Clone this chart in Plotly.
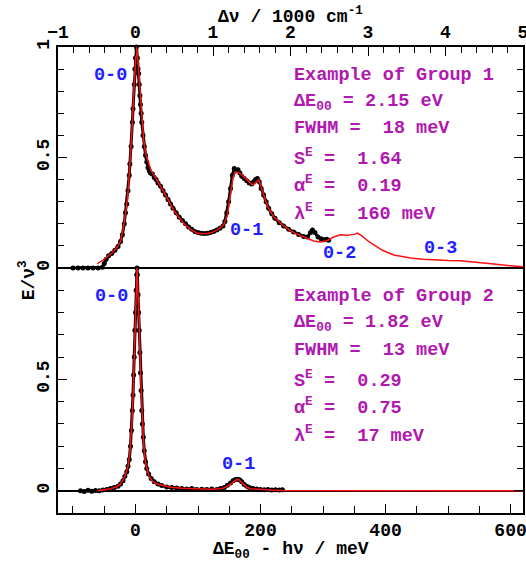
import plotly.graph_objects as go

# ---------------- data ----------------
# Group 1 : fit (red) and measured points (black); x = dE00 - hv in meV, y = E/v^3
fit1_x = [-61, -52, -45, -37, -29, -24, -19, -16, -13, -11, -9, -7, -5, -3, -1.5, 0, 1.5, 3, 4, 6, 8, 9,
          11, 13, 16, 19, 21, 25, 29, 32, 38, 45, 53, 61, 69, 77, 88, 99, 110, 120, 131, 141, 147,
          152, 156, 160, 165, 171, 179, 187, 192, 197, 203, 211, 221, 237, 253, 269, 285, 297, 307,
          317, 328, 339, 350, 355, 362, 373, 381, 395, 413, 428, 440, 460, 477, 500, 520, 545, 573,
          600, 621]
fit1_y = [0.02, 0.035, 0.051, 0.07, 0.096, 0.12, 0.187, 0.24, 0.31, 0.38, 0.46, 0.56, 0.655, 0.78, 0.86,
          0.93, 1.0, 0.97, 0.93, 0.88, 0.79, 0.73, 0.65, 0.58, 0.52, 0.49, 0.47, 0.44, 0.425, 0.41, 0.38,
          0.35, 0.305, 0.262, 0.23, 0.202, 0.175, 0.157, 0.155, 0.158, 0.172, 0.195, 0.24, 0.33, 0.41,
          0.435, 0.43, 0.42, 0.395, 0.375, 0.385, 0.40, 0.35, 0.28, 0.232, 0.19, 0.16, 0.14, 0.122,
          0.118, 0.125, 0.14, 0.15, 0.148, 0.152, 0.158, 0.145, 0.12, 0.105, 0.08, 0.059, 0.05, 0.045,
          0.04, 0.036, 0.034, 0.033, 0.027, 0.018, 0.01, 0.005]

data1_x = [-100, -92, -84, -76, -68, -60, -53, -50, -47, -43, -38, -33, -28, -24, -21, -18, -16, -14, -12,
           -10, -9, -7, -5, -4, -2, -1, 0, 1.5, 3, 4, 5, 6, 7, 8, 9, 10, 12, 14, 16, 18, 20, 22, 24, 27,
           30, 33, 36, 40, 44, 48, 52, 56, 60, 65, 70, 75, 80, 85, 90, 95, 100, 105, 110, 115, 120, 125,
           130, 135, 140, 143, 146, 149, 152, 155, 158, 161, 164, 167, 170, 174, 178, 182, 186, 189, 192,
           195, 198, 201, 205, 209, 213, 218, 223, 230, 237, 245, 253, 261, 269, 275, 280, 283, 287, 292,
           297, 302, 306, 309]
data1_y = [0.0, 0.0, 0.0, 0.0, 0.0, 0.0, 0.003, 0.02, 0.04, 0.055, 0.065, 0.08, 0.097, 0.12, 0.15, 0.2,
           0.25, 0.29, 0.35, 0.42, 0.47, 0.55, 0.66, 0.72, 0.83, 0.9, 0.95, 1.0, 0.95, 0.9, 0.88, 0.83,
           0.78, 0.74, 0.7, 0.66, 0.6, 0.55, 0.51, 0.48, 0.455, 0.44, 0.43, 0.425, 0.41, 0.4, 0.385, 0.37,
           0.35, 0.33, 0.31, 0.29, 0.27, 0.25, 0.23, 0.215, 0.2, 0.185, 0.175, 0.165, 0.16, 0.157, 0.156,
           0.157, 0.16, 0.165, 0.172, 0.18, 0.19, 0.21, 0.25, 0.3, 0.36, 0.42, 0.45, 0.44, 0.445, 0.43,
           0.415, 0.405, 0.395, 0.385, 0.38, 0.39, 0.4, 0.405, 0.39, 0.36, 0.33, 0.3, 0.27, 0.245, 0.225,
           0.205, 0.19, 0.175, 0.163, 0.152, 0.143, 0.14, 0.16, 0.172, 0.16, 0.14, 0.132, 0.128, 0.13,
           0.125]

# Group 2
fit2_x = [-61, -50, -40, -30, -24, -17, -12, -9, -7, -5.5, -4, -2.8, -1.2, 1.2, 2.5, 3.8, 6.2, 7.8, 9.5,
          10.5, 12.5, 14.2, 17, 22, 28, 35, 45, 56, 75, 100, 120, 135, 141, 147, 152, 157, 162, 165, 169,
          173, 178, 184, 200, 216, 235, 300, 400, 500, 621]
fit2_y = [0.0, 0.004, 0.009, 0.018, 0.03, 0.064, 0.11, 0.17, 0.24, 0.32, 0.42, 0.545, 0.74, 0.89, 1.0,
          0.89, 0.74, 0.545, 0.42, 0.32, 0.24, 0.17, 0.11, 0.064, 0.04, 0.03, 0.022, 0.016, 0.011, 0.008,
          0.007, 0.009, 0.012, 0.02, 0.03, 0.042, 0.05, 0.05, 0.04, 0.027, 0.016, 0.009, 0.005, 0.003,
          0.001, 0.0, 0.0, 0.0, 0.0]

data2_x = [-88, -82, -76, -70, -64, -58, -52, -46, -40, -34, -28, -24, -20, -17, -14, -12, -10, -8, -6.5,
           -5, -4, -3, -2, -1, 0, 1, 2, 2.5, 3, 4, 5, 6, 7, 8, 9, 10, 11, 12.5, 14, 16, 18, 21, 25, 30,
           36, 42, 50, 58, 66, 74, 82, 90, 98, 106, 114, 122, 130, 136, 142, 147, 152, 156, 160, 164, 167,
           170, 174, 178, 182, 188, 194, 200, 206, 212, 218, 224, 230, 235]
data2_y = [0.0, -0.003, 0.002, -0.002, 0.001, 0.0, 0.003, 0.005, 0.01, 0.014, 0.02, 0.03, 0.045, 0.065,
           0.085, 0.11, 0.14, 0.2, 0.27, 0.36, 0.43, 0.52, 0.6, 0.72, 0.8, 0.9, 0.97, 1.0, 0.97, 0.88, 0.8,
           0.72, 0.62, 0.53, 0.45, 0.36, 0.3, 0.24, 0.18, 0.13, 0.1, 0.075, 0.055, 0.04, 0.03, 0.024,
           0.017, 0.015, 0.012, 0.01, 0.008, 0.01, 0.006, 0.007, 0.006, 0.008, 0.006, 0.01, 0.015, 0.025,
           0.035, 0.045, 0.05, 0.052, 0.048, 0.04, 0.028, 0.02, 0.015, 0.01, 0.008, 0.006, 0.004, 0.005,
           0.003, 0.004, 0.003, 0.004]

# axis / tick definitions
MEV_PER_1000_CM = 123.984
top_axis_range = [-1, 5]                      # 1000 cm^-1
top_major = [-1, 0, 1, 2, 3, 4, 5]
top_minor = [i / 5 for i in range(-5, 26)]
bottom_major = [0, 200, 400, 600]
bottom_minor = list(range(-100, 601, 50))
y1_major = [0, 0.5, 1]
y2_major = [0, 0.5]
y_minor1 = [i / 10 for i in range(0, 11)]
y_minor2 = [i / 10 for i in range(-1, 11)]

group1_text = ["Example of Group 1", "ΔE<sub>00</sub> = 2.15 eV", "FWHM =\u00a0 18 meV",
               "S<sup>E</sup> =\u00a0 1.64", "α<sup>E</sup> =\u00a0 0.19", "λ<sup>E</sup> =\u00a0 160 meV"]
group2_text = ["Example of Group 2", "ΔE<sub>00</sub> = 1.82 eV", "FWHM =\u00a0 13 meV",
               "S<sup>E</sup> =\u00a0 0.29", "α<sup>E</sup> =\u00a0 0.75", "λ<sup>E</sup> =\u00a0 17 meV"]
text_rows = [0.873, 0.751, 0.629, 0.498, 0.376, 0.253]

band_labels1 = [("0-0", -40, 0.873), ("0-1", 178, 0.168), ("0-2", 326, 0.066), ("0-3", 488, 0.086)]
band_labels2 = [("0-0", -38, 0.87), ("0-1", 164, 0.117)]

# ---------------- figure ----------------
FONT = "Courier New, Liberation Mono, monospace"
MAG = "#b018b0"
BLUE = "#1e1eff"
RED = "#ff1010"

fig = go.Figure()
data_style = dict(mode="lines+markers", line=dict(color="black", width=3),
                  marker=dict(color="black", size=5), cliponaxis=False, hoverinfo="skip",
                  showlegend=False)
fit_style = dict(mode="lines", line=dict(color=RED, width=1.5), hoverinfo="skip", showlegend=False)

fig.add_trace(go.Scatter(x=data1_x, y=data1_y, xaxis="x", yaxis="y", **data_style))
fig.add_trace(go.Scatter(x=fit1_x, y=fit1_y, xaxis="x", yaxis="y", **fit_style))
fig.add_trace(go.Scatter(x=data2_x, y=data2_y, xaxis="x", yaxis="y2", **data_style))
fig.add_trace(go.Scatter(x=fit2_x, y=fit2_y, xaxis="x", yaxis="y2", **fit_style))
# same top-panel fit expressed in 1000 cm^-1, to carry the top axis (invisible)
fig.add_trace(go.Scatter(x=[v / MEV_PER_1000_CM for v in fit1_x], y=fit1_y, xaxis="x2", yaxis="y",
                         mode="lines", line=dict(width=0, color="rgba(0,0,0,0)"), hoverinfo="skip",
                         showlegend=False))

split = 0.5258
tickfont = dict(family=FONT, size=18, color="black", weight="bold")
common_axis = dict(showline=True, linecolor="black", linewidth=1.5, ticks="inside", ticklen=9,
                   tickwidth=1.2, tickcolor="black", showgrid=False, tickfont=tickfont,
                   zeroline=False, automargin=False, ticklabeloverflow="allow")

fig.update_layout(
    width=526, height=563,
    margin=dict(l=58, r=3, t=47, b=50, autoexpand=False),
    paper_bgcolor="white", plot_bgcolor="white",
    xaxis=dict(range=[top_axis_range[0] * MEV_PER_1000_CM, top_axis_range[1] * MEV_PER_1000_CM],
               anchor="y2", tickmode="array", tickvals=bottom_major,
               minor=dict(tickmode="array", tickvals=bottom_minor, ticks="inside", ticklen=7,
                          tickcolor="black", tickwidth=1.2),
               **common_axis),
    xaxis2=dict(range=top_axis_range, overlaying="x", side="top", anchor="y",
                tickmode="array", tickvals=top_major,
                minor=dict(tickmode="array", tickvals=top_minor, ticks="inside", ticklen=6,
                           tickcolor="black", tickwidth=1.2),
                **common_axis),
    yaxis=dict(domain=[split, 1], range=[0, 1], anchor="x", mirror="ticks", tickangle=-90,
               tickmode="array", tickvals=y1_major,
               minor=dict(tickmode="array", tickvals=y_minor1, ticks="inside", ticklen=6,
                          tickcolor="black", tickwidth=1.2),
               **common_axis),
    yaxis2=dict(domain=[0, split], range=[-0.1, 1.0], anchor="x", mirror="ticks", tickangle=-90,
                tickmode="array", tickvals=y2_major,
                minor=dict(tickmode="array", tickvals=y_minor2, ticks="inside", ticklen=6,
                           tickcolor="black", tickwidth=1.2),
                **common_axis),
)
fig.update_yaxes(zeroline=True, zerolinecolor="black", zerolinewidth=1.5)

anns = []
tfont = dict(family=FONT, size=18.5, color=MAG, weight="bold")
for txt, yy in zip(group1_text, text_rows):
    anns.append(dict(text=txt, x=251, y=yy, xref="x", yref="y", xanchor="left", yanchor="middle",
                     showarrow=False, font=tfont))
for txt, yy in zip(group2_text, text_rows):
    anns.append(dict(text=txt, x=251, y=yy, xref="x", yref="y2", xanchor="left", yanchor="middle",
                     showarrow=False, font=tfont))
bfont = dict(family=FONT, size=18.5, color=BLUE, weight="bold")
for txt, xx, yy in band_labels1:
    anns.append(dict(text=txt, x=xx, y=yy, xref="x", yref="y", showarrow=False, font=bfont))
for txt, xx, yy in band_labels2:
    anns.append(dict(text=txt, x=xx, y=yy, xref="x", yref="y2", showarrow=False, font=bfont))

title_font = dict(family=FONT, size=18, color="black", weight="bold")
anns.append(dict(text="Δν / 1000 cm<sup>-1</sup>", x=0.5, y=1.068, xref="paper", yref="paper",
                 showarrow=False, font=title_font, yanchor="middle"))
anns.append(dict(text="ΔE<sub>00</sub> - hν / meV", x=0.5, y=-0.08, xref="paper", yref="paper",
                 showarrow=False, font=title_font, yanchor="middle"))
anns.append(dict(text="E/ν<sup>3</sup>", x=-0.066, y=0.5, xref="paper", yref="paper",
                 showarrow=False, font=title_font, textangle=-90, xanchor="center", yanchor="middle"))
fig.update_layout(annotations=anns)

fig.write_html("out.html", config={"displayModeBar": False},
               post_script="document.body.style.margin='0px';")
